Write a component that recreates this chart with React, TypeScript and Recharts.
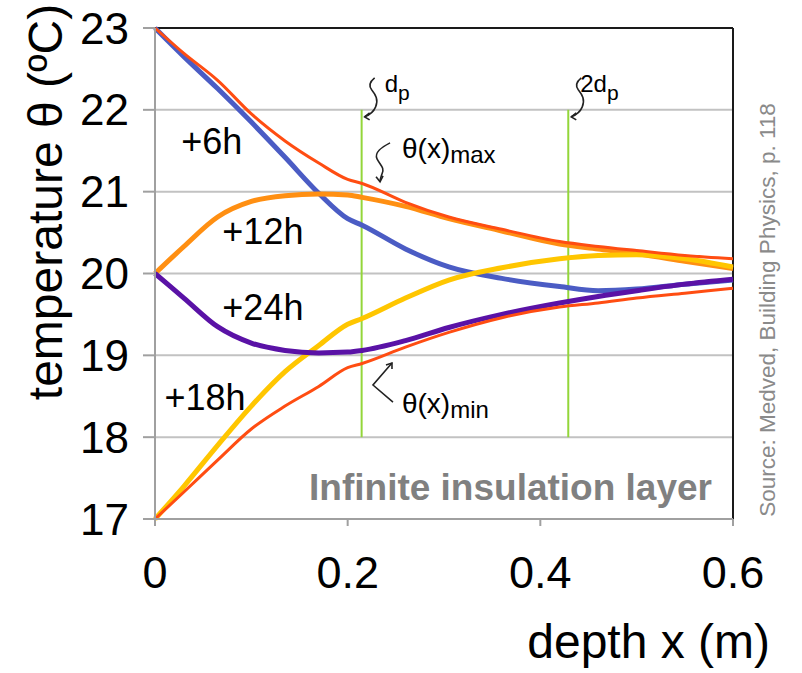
import React from 'react';
import { LineChart, Line, XAxis, YAxis, CartesianGrid, ReferenceLine, ReferenceDot } from 'recharts';

const depth = [0, 0.03, 0.065, 0.1, 0.135, 0.17, 0.2, 0.215, 0.26, 0.305, 0.36, 0.42, 0.46, 0.5, 0.55, 0.6];
const plus6h = [23, 22.65, 22.26, 21.85, 21.42, 20.98, 20.67, 20.59, 20.3, 20.08, 19.94, 19.84, 19.79, 19.81, 19.87, 19.92];
const plus12h = [20, 20.33, 20.69, 20.88, 20.95, 20.97, 20.96, 20.93, 20.82, 20.67, 20.52, 20.36, 20.3, 20.24, 20.15, 20.06];
const plus18h = [17, 17.4, 17.9, 18.38, 18.8, 19.12, 19.38, 19.45, 19.7, 19.92, 20.07, 20.18, 20.22, 20.23, 20.18, 20.08];
const plus24h = [20, 19.7, 19.35, 19.15, 19.06, 19.03, 19.04, 19.06, 19.18, 19.34, 19.5, 19.64, 19.72, 19.79, 19.87, 19.93];
const thetaMax = [23, 22.69, 22.36, 21.95, 21.62, 21.35, 21.15, 21.1, 20.87, 20.69, 20.54, 20.39, 20.33, 20.28, 20.22, 20.18];
const thetaMin = [17, 17.33, 17.72, 18.1, 18.38, 18.62, 18.85, 18.9, 19.1, 19.28, 19.46, 19.59, 19.64, 19.7, 19.76, 19.82];

const yTicks = [17, 18, 19, 20, 21, 22, 23];
const xTicks = [0, 0.2, 0.4, 0.6];
const dp = 0.2145;
const dp2 = 0.429;

const data = depth.map((x, i) => ({
  x,
  h6: plus6h[i],
  h12: plus12h[i],
  h18: plus18h[i],
  h24: plus24h[i],
  tmax: thetaMax[i],
  tmin: thetaMin[i],
}));

const FONT = '"Liberation Sans", Arial, Helvetica, sans-serif';

const curveLabel = (text: string) => (p: any) => (
  <text x={p.cx} y={p.cy} dy="0.355em" textAnchor="middle" fontSize={36} fontFamily={FONT} fill="#000">
    {text}
  </text>
);

const dpLabel = (prefix: string, dx: number) => (p: any) => (
  <g>
    <path
      d={`M${p.cx + 13},${p.cy - 32} C${p.cx + 8},${p.cy - 28} ${p.cx + 7},${p.cy - 24} ${p.cx + 10},${p.cy - 20} C${p.cx + 14},${p.cy - 15} ${p.cx + 17},${p.cy - 10} ${p.cx + 14},${p.cy - 3} C${p.cx + 12},${p.cy + 2} ${p.cx + 8},${p.cy + 5} ${p.cx + 3},${p.cy + 7}`}
      fill="none"
      stroke="#222"
      strokeWidth={1.6}
    />
    <path d={`M${p.cx + 8},${p.cy + 3} L${p.cx + 3},${p.cy + 7} L${p.cx + 8},${p.cy + 10}`} fill="none" stroke="#222" strokeWidth={1.6} />
    <text x={p.cx + dx} y={p.cy - 18} fontSize={24} fontFamily={FONT} fill="#000">
      {prefix}
      <tspan fontSize={21} dy={8}>p</tspan>
    </text>
  </g>
);

const maxLabel = (p: any) => (
  <g>
    <path
      d={`M${p.cx + 10},${p.cy - 39} C${p.cx + 2},${p.cy - 35} ${p.cx - 6},${p.cy - 29} ${p.cx - 3},${p.cy - 23} C${p.cx},${p.cy - 17} ${p.cx + 5},${p.cy - 14} ${p.cx + 2},${p.cy - 8} C${p.cx + 1},${p.cy - 5} ${p.cx},${p.cy - 3} ${p.cx},${p.cy}`}
      fill="none"
      stroke="#222"
      strokeWidth={1.6}
    />
    <path d={`M${p.cx - 4},${p.cy - 5} L${p.cx},${p.cy} L${p.cx + 3},${p.cy - 6}`} fill="none" stroke="#222" strokeWidth={1.6} />
    <text x={p.cx + 22} y={p.cy - 24} fontSize={28} fontFamily={FONT} fill="#000">
      θ(x)
      <tspan fontSize={24} dy={5}>max</tspan>
    </text>
  </g>
);

const minLabel = (p: any) => (
  <g>
    <path d={`M${p.cx + 1},${p.cy + 39} L${p.cx - 19},${p.cy + 22} L${p.cx},${p.cy}`} fill="none" stroke="#222" strokeWidth={1.6} />
    <path d={`M${p.cx - 6},${p.cy + 2} L${p.cx},${p.cy} L${p.cx},${p.cy + 6}`} fill="none" stroke="#222" strokeWidth={1.6} />
    <text x={p.cx + 10} y={p.cy + 50} fontSize={28} fontFamily={FONT} fill="#000">
      θ(x)
      <tspan fontSize={24} dy={5}>min</tspan>
    </text>
  </g>
);

const layerLabel = (p: any) => (
  <text x={p.cx - 21} y={p.cy - 19} textAnchor="end" fontSize={37} fontWeight="bold" fontFamily={FONT} fill="#808080">
    Infinite insulation layer
  </text>
);

const yTitle = (props: any) => {
  const vb = props.viewBox;
  const cx = vb.x + 45;
  const cy = vb.y + 174;
  return (
    <text x={cx} y={cy} transform={`rotate(-90 ${cx} ${cy})`} textAnchor="middle" dy="0.355em" fontSize={48} fontFamily={FONT} fill="#000">
      temperature θ (ºC)
    </text>
  );
};

const xTitle = (props: any) => {
  const vb = props.viewBox;
  const rx = vb.x + vb.width + 37;
  const by = vb.y + 139;
  const sx = vb.x + vb.width + 34;
  const sy = vb.y - 209;
  return (
    <g>
      <text x={rx} y={by} textAnchor="end" fontSize={48} fontFamily={FONT} fill="#000">
        depth x (m)
      </text>
      <text x={sx} y={sy} transform={`rotate(-90 ${sx} ${sy})`} textAnchor="middle" dy="0.355em" fontSize={22.5} fontFamily={FONT} fill="#8a8a8a">
        Source: Medved, Building Physics, p. 118
      </text>
    </g>
  );
};

export default function App() {
  return (
    <div style={{ position: 'absolute', left: 0, top: 0, width: 802, height: 673, background: '#fff' }}>
      <LineChart width={802} height={673} data={data} margin={{ top: 28, right: 69, bottom: 0, left: 0 }}>
        <CartesianGrid horizontal vertical={false} stroke="#c2c2c2" strokeWidth={2} />
        <XAxis
          dataKey="x"
          type="number"
          domain={[0, 0.6]}
          ticks={xTicks}
          height={154}
          tickSize={7}
          tickMargin={30}
          axisLine={{ stroke: '#a0a0a0', strokeWidth: 2 }}
          tickLine={{ stroke: '#a0a0a0', strokeWidth: 2 }}
          tick={{ fontSize: 45, fill: '#000', fontFamily: FONT }}
          tickFormatter={(v: number) => String(v)}
          label={{ content: xTitle }}
        />
        <YAxis
          type="number"
          domain={[17, 23]}
          ticks={yTicks}
          width={155}
          tickSize={12}
          tickMargin={14}
          axisLine={{ stroke: '#a0a0a0', strokeWidth: 2 }}
          tickLine={{ stroke: '#a0a0a0', strokeWidth: 2 }}
          tick={{ fontSize: 44, fill: '#000', fontFamily: FONT }}
          label={{ content: yTitle }}
        />
        <ReferenceLine y={23} stroke="#1a1a1a" strokeWidth={2} />
        <ReferenceLine x={0.6} stroke="#1a1a1a" strokeWidth={2} />
        <ReferenceLine segment={[{ x: dp, y: 22 }, { x: dp, y: 18 }]} stroke="#93d63a" strokeWidth={2} />
        <ReferenceLine segment={[{ x: dp2, y: 22 }, { x: dp2, y: 18 }]} stroke="#93d63a" strokeWidth={2} />
        <Line type="monotone" dataKey="h6" stroke="#4b5cc4" strokeWidth={5} dot={false} isAnimationActive={false} />
        <Line type="monotone" dataKey="h12" stroke="#ff8f12" strokeWidth={5} dot={false} isAnimationActive={false} />
        <Line type="monotone" dataKey="h18" stroke="#ffc600" strokeWidth={5} dot={false} isAnimationActive={false} />
        <Line type="monotone" dataKey="h24" stroke="#5a12a6" strokeWidth={5} dot={false} isAnimationActive={false} />
        <Line type="monotone" dataKey="tmax" stroke="#ff4d12" strokeWidth={3} dot={false} isAnimationActive={false} />
        <Line type="monotone" dataKey="tmin" stroke="#ff4d12" strokeWidth={3} dot={false} isAnimationActive={false} />
        <ReferenceDot x={0.059} y={21.62} r={1} shape={curveLabel('+6h')} />
        <ReferenceDot x={0.112} y={20.52} r={1} shape={curveLabel('+12h')} />
        <ReferenceDot x={0.112} y={19.59} r={1} shape={curveLabel('+24h')} />
        <ReferenceDot x={0.052} y={18.49} r={1} shape={curveLabel('+18h')} />
        <ReferenceDot x={dp} y={22} r={1} shape={dpLabel('d', 23)} />
        <ReferenceDot x={dp2} y={22} r={1} shape={dpLabel('2d', 12)} />
        <ReferenceDot x={0.2336} y={21.12} r={1} shape={maxLabel} />
        <ReferenceDot x={0.246} y={18.906} r={1} shape={minLabel} />
        <ReferenceDot x={0.6} y={17} r={1} shape={layerLabel} />
      </LineChart>
    </div>
  );
}
